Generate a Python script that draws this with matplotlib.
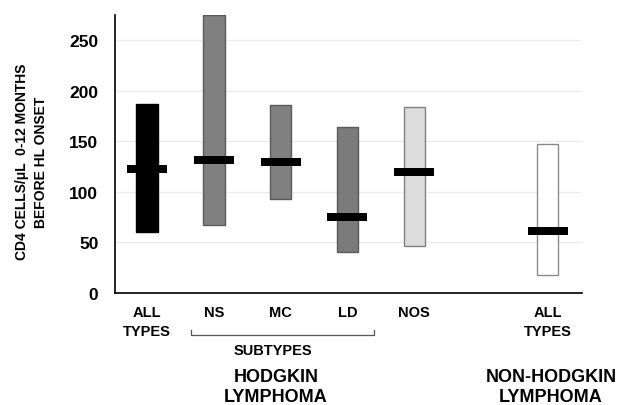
import numpy as np
import matplotlib.pyplot as plt

# CD4 ranges per lymphoma group
groups = ["ALL\nTYPES", "NS", "MC", "LD", "NOS", "ALL\nTYPES"]
positions = [0, 1, 2, 3, 4, 6]
low = [60, 67, 93, 41, 46, 18]
high = [187, 275, 186, 164, 184, 147]
median = [123, 132, 130, 75, 120, 61]
fill_colors = ["#000000", "#808080", "#808080", "#7b7b7b", "#dcdcdc", "#ffffff"]
edge_colors = ["#000000", "#5a5a5a", "#5a5a5a", "#5a5a5a", "#808080", "#8a8a8a"]

plt.rcParams["font.family"] = ["Liberation Sans", "DejaVu Sans"]
plt.rcParams["font.weight"] = "bold"

fig = plt.figure(figsize=(6.17, 4.06), dpi=100)
ax = fig.add_axes([0.1864, 0.2759, 0.7566, 0.6847])

heights = np.array(high) - np.array(low)
ax.bar(positions, heights, bottom=low, width=0.32, color=fill_colors,
       edgecolor=edge_colors, linewidth=1.0, zorder=2)

# median markers as thick black bars
med_h = 8
ax.bar(positions, med_h, bottom=np.array(median) - med_h / 2, width=0.6,
       color="black", zorder=3)

ax.set_xlim(-0.48, 6.51)
ax.set_ylim(0, 275)
ax.set_yticks([0, 50, 100, 150, 200, 250])
ax.yaxis.grid(True, color="#ebebeb", linewidth=0.9, zorder=0)
ax.set_axisbelow(True)

ax.set_xticks(positions)
ax.set_xticklabels(groups, fontsize=10.5, fontweight="bold", linespacing=1.45)
ax.tick_params(axis="x", length=0, pad=9)
ax.tick_params(axis="y", length=0, pad=12, labelsize=12.5)
for lbl in ax.get_yticklabels():
    lbl.set_fontweight("bold")

for side in ["top", "right"]:
    ax.spines[side].set_visible(False)
ax.spines["left"].set_linewidth(1.2)
ax.spines["bottom"].set_linewidth(1.2)

ax.set_ylabel("CD4 CELLS/\u03bcL  0-12 MONTHS\nBEFORE HL ONSET", fontsize=10,
              fontweight="bold", linespacing=1.45)
ax.yaxis.set_label_coords(-0.144, 0.475)

# subtype bracket
trans = ax.get_xaxis_transform()
ax.plot([0.66, 0.66, 3.40, 3.40], [-0.133, -0.151, -0.151, -0.133],
        transform=trans, color="#555555", linewidth=0.9, clip_on=False)
ax.text(1.885, -0.205, "SUBTYPES", transform=trans, ha="center", va="center",
        fontsize=10.5, fontweight="bold")

ax.text(1.93, -0.336, "HODGKIN\nLYMPHOMA", transform=trans, ha="center",
        va="center", fontsize=13, fontweight="bold", linespacing=1.2)
ax.text(6.05, -0.336, "NON-HODGKIN\nLYMPHOMA", transform=trans, ha="center",
        va="center", fontsize=13, fontweight="bold", linespacing=1.2)

fig.savefig("out.png", dpi=100)
